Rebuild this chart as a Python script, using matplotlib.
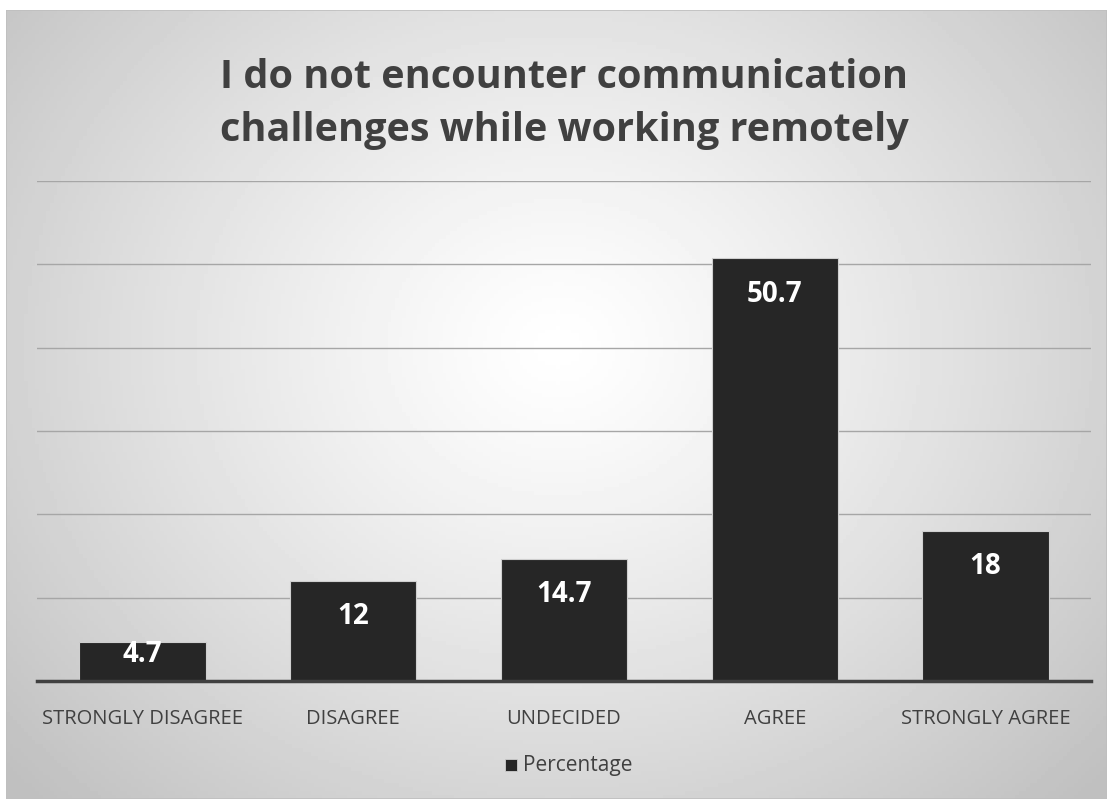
import numpy as np
import matplotlib
matplotlib.use("Agg")
import matplotlib.pyplot as plt
from matplotlib.patches import Rectangle

categories = ["STRONGLY DISAGREE", "DISAGREE", "UNDECIDED", "AGREE", "STRONGLY AGREE"]
values = [4.7, 12, 14.7, 50.7, 18]
labels = ["4.7", "12", "14.7", "50.7", "18"]
title = "I do not encounter communication\nchallenges while working remotely"
series_name = "Percentage"

W, H = 1107, 799
fig = plt.figure(figsize=(W / 100, H / 100), dpi=100)
fig.patch.set_facecolor("white")

# Radial gradient background for chart area
bg = fig.add_axes([6 / W, 0, 1 - 6 / W, 1 - 10 / H], zorder=0)
yy, xx = np.mgrid[0:200, 0:300]
cx, cy = 150, 85
r = np.sqrt(((xx - cx) / 150) ** 2 + ((yy - cy) / 120) ** 2)
r = np.clip(r / 1.35, 0, 1)
val = 1.0 - 0.25 * r ** 1.2
bg.imshow(val, cmap="gray", vmin=0, vmax=1, aspect="auto", extent=[0, 1, 0, 1])
bg.set_axis_off()
bg.add_patch(Rectangle((0, 0), 1, 1, transform=bg.transAxes, fill=False, edgecolor="#bfbfbf", lw=1.2))

fontfam = ["Open Sans", "DejaVu Sans"]

ax = fig.add_axes([37 / W, 1 - 681 / H, (1091 - 37) / W, (681 - 181) / H], zorder=1)
ax.patch.set_alpha(0)
x = np.arange(len(categories))
bars = ax.bar(x, values, width=0.6, color="#262626", edgecolor="#cfcfcf", linewidth=0.8, zorder=3)
ax.set_xlim(-0.5, len(categories) - 0.5)
ax.set_ylim(0, 60)
ax.set_yticks(np.arange(10, 61, 10))
ax.yaxis.grid(True, color="#a6a6a6", lw=1.0, zorder=1)
ax.tick_params(axis="y", left=False, labelleft=False)
ax.tick_params(axis="x", length=0, pad=20)
ax.set_xticks(x)
ax.set_xticklabels(categories, fontsize=14.5, color="#404040", family=fontfam)
for s in ["top", "right", "left"]:
    ax.spines[s].set_visible(False)
ax.spines["bottom"].set_color("#404040")
ax.spines["bottom"].set_linewidth(2.5)
ax.spines["bottom"].set_zorder(4)

px_per_unit = (681 - 181) / 60
for xi, v, lab in zip(x, values, labels):
    h_px = v * px_per_unit
    off = min(36, max(13, h_px - 27))
    ax.annotate(lab, (xi, v), xytext=(0, -off), textcoords="offset pixels",
                ha="center", va="center", color="white", fontsize=20, fontweight="bold",
                family=fontfam, zorder=5)

fig.text(564 / W, 1 - 104 / H, title, ha="center", va="center", fontsize=28.5, fontweight="bold",
         color="#404040", family=fontfam, linespacing=1.45)

# Legend
fig.patches.append(Rectangle((505 / W, 1 - 771 / H), 12 / W, 12 / H, transform=fig.transFigure,
                             facecolor="#262626", edgecolor="#cfcfcf", lw=0.6, zorder=5))
fig.text(523 / W, 1 - 765 / H, series_name, ha="left", va="center", fontsize=15,
         color="#404040", family=fontfam)

fig.savefig("out.png", dpi=100)
